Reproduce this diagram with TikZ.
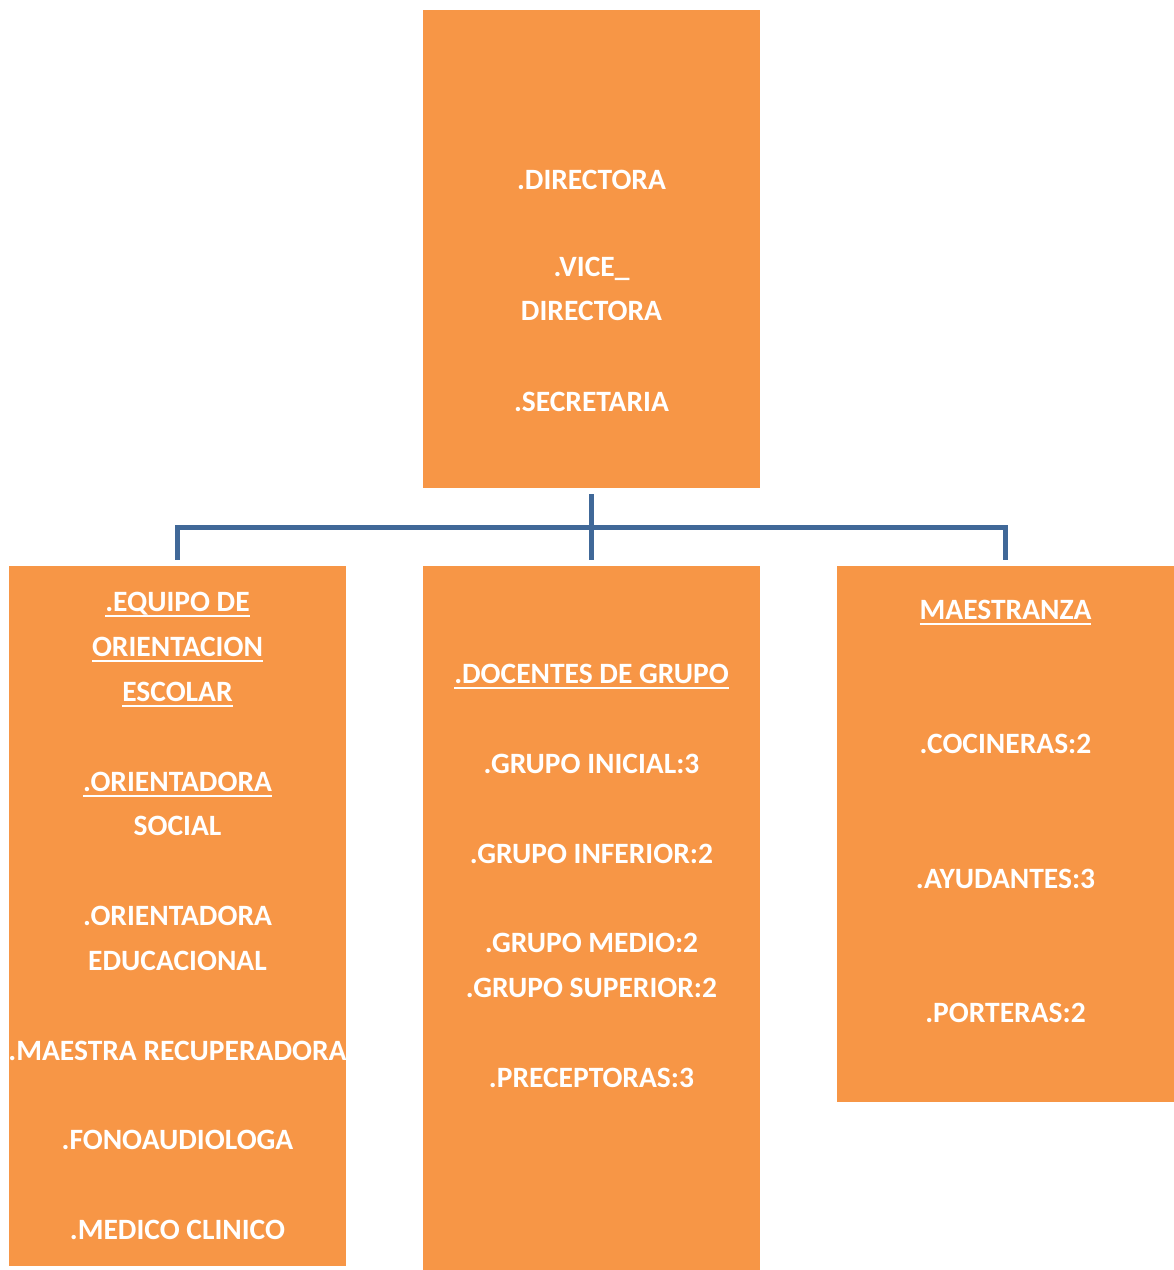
\documentclass[tikz,border=0pt]{standalone}
\usepackage{fontspec}
\setmainfont{Carlito}
\newcommand\ulin[1]{\setbox0\hbox{#1}\rlap{\raisebox{-5.5pt}{\rule{\wd0}{2pt}}}\box0}
\definecolor{boxorange}{HTML}{F79646}
\definecolor{connblue}{RGB}{64,104,152}
\begin{document}
\begin{tikzpicture}[x=1pt,y=-1pt,
  box/.style={rectangle, fill=boxorange, draw=none, inner sep=0pt, minimum width=337pt},
  lbl/.style={anchor=base, text=white, inner sep=0pt, font=\fontsize{29.5}{35}\selectfont\bfseries},
  conn/.style={draw=connblue, line width=5pt}]
\useasboundingbox (0,0) rectangle (1174,1270);
% boxes
\node[box, minimum height=478pt] (top) at (591.5,249) {};
\node[box, minimum height=700pt] (left) at (177.5,916) {};
\node[box, minimum height=704pt] (mid) at (591.5,918) {};
\node[box, minimum height=536pt] (right) at (1005.5,834) {};
% connectors
\coordinate (hub) at (591.5,527);
\draw[conn] ([yshift=-6pt]top.south) -- (hub);
\draw[conn] ([yshift=6pt]left.north) |- (hub) -| ([yshift=6pt]right.north);
\draw[conn] (hub) -- ([yshift=6pt]mid.north);
% top texts
\node[lbl] (t1) at (591.5,189) {.DIRECTORA};
\node[lbl] (t2) at (591.5,276) {.VICE\_};
\node[lbl] (t3) at (591.5,320) {DIRECTORA};
\node[lbl] (t4) at (591.5,411) {.SECRETARIA};
% left texts
\node[lbl] (l1) at (177.5,611) {\ulin{.EQUIPO DE}};
\node[lbl] (l2) at (177.5,656) {\ulin{ORIENTACION}};
\node[lbl] (l3) at (177.5,701) {\ulin{ESCOLAR}};
\node[lbl] (l4) at (177.5,791) {\ulin{.ORIENTADORA}};
\node[lbl] (l5) at (177.5,835) {SOCIAL};
\node[lbl] (l6) at (177.5,925) {.ORIENTADORA};
\node[lbl] (l7) at (177.5,970) {EDUCACIONAL};
\node[lbl] (l8) at (177.5,1060) {.MAESTRA RECUPERADORA};
\node[lbl] (l9) at (177.5,1149) {.FONOAUDIOLOGA};
\node[lbl] (l10) at (177.5,1239) {.MEDICO CLINICO};
% middle texts
\node[lbl] (m1) at (591.5,683) {\ulin{.DOCENTES DE GRUPO}};
\node[lbl] (m2) at (591.5,773) {.GRUPO INICIAL:3};
\node[lbl] (m3) at (591.5,863) {.GRUPO INFERIOR:2};
\node[lbl] (m4) at (591.5,952) {.GRUPO MEDIO:2};
\node[lbl] (m5) at (591.5,997) {.GRUPO SUPERIOR:2};
\node[lbl] (m6) at (591.5,1087) {.PRECEPTORAS:3};
% right texts
\node[lbl] (r1) at (1005.5,619) {\ulin{MAESTRANZA}};
\node[lbl] (r2) at (1005.5,753) {.COCINERAS:2};
\node[lbl] (r3) at (1005.5,888) {.AYUDANTES:3};
\node[lbl] (r4) at (1005.5,1022) {.PORTERAS:2};
\end{tikzpicture}
\end{document}
